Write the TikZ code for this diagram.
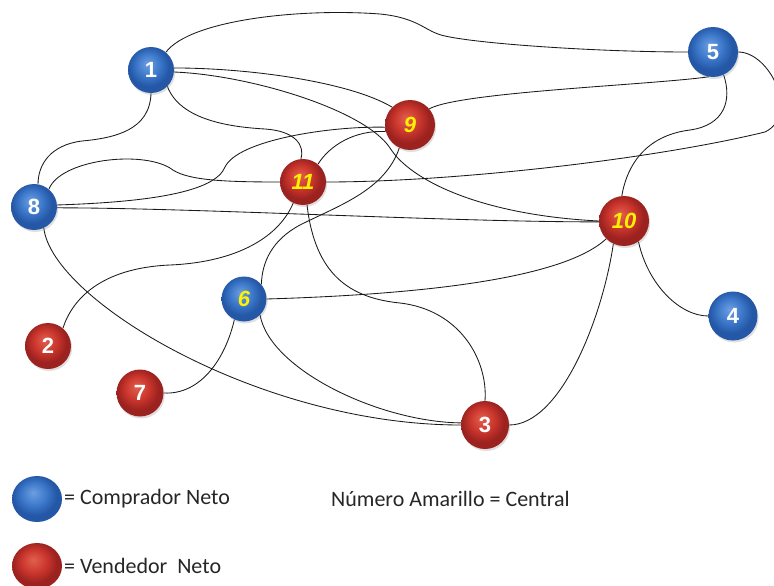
\documentclass[tikz,border=0pt]{standalone}
\usepackage{fontspec}
\setmainfont{Carlito}
\newfontfamily\numfont{Liberation Sans}
\usetikzlibrary{shadows,backgrounds,shapes.geometric}

\definecolor{bLight}{HTML}{6C9FE2}
\definecolor{bMid}{HTML}{3B76C8}
\definecolor{bEdge}{HTML}{2457A6}
\definecolor{rLight}{HTML}{E2604E}
\definecolor{rMid}{HTML}{C9352C}
\definecolor{rEdge}{HTML}{9C2220}
\definecolor{numyellow}{HTML}{FFF200}
\definecolor{edgecol}{HTML}{1A1A1A}

\pgfdeclareradialshading{blueball}{\pgfpoint{-4bp}{7bp}}{color(0bp)=(bLight); color(13bp)=(bMid); color(22bp)=(bEdge); color(25bp)=(bEdge); color(50bp)=(bEdge)}
\pgfdeclareradialshading{redball}{\pgfpoint{-4bp}{7bp}}{color(0bp)=(rLight); color(13bp)=(rMid); color(22bp)=(rEdge); color(25bp)=(rEdge); color(50bp)=(rEdge)}

\tikzset{
  ballnode/.style={circle, inner sep=0pt, shade,
    drop shadow={shadow xshift=1.2pt, shadow yshift=-2pt, opacity=0.25},
    font=\numfont\bfseries\fontsize{22}{22}\selectfont, text=white},
  buyer/.style={ballnode, shading=blueball},
  seller/.style={ballnode, shading=redball},
  central/.style={text=numyellow, font=\numfont\bfseries\itshape\fontsize{22}{22}\selectfont},
  link/.style={draw=edgecol, line width=0.85pt},
  legendball/.style={ellipse, inner sep=0pt, shade, minimum width=50pt, minimum height=46pt},
  legendtext/.style={anchor=west, inner sep=0pt, font=\fontsize{22}{24}\selectfont, text=black!85}
}

\begin{document}
\begin{tikzpicture}[x=1pt, y=-1pt]
\useasboundingbox (0,0) rectangle (774,586);

% nodes
\node[buyer, minimum size=46pt] (n1) at (151,70) {1};
\node[buyer, minimum size=50pt] (n5) at (713,52) {5};
\node[seller, central, minimum size=50pt] (n9) at (410,125) {9};
\node[seller, central, minimum size=46pt] (n11) at (303,182) {11};
\node[buyer, minimum size=46pt] (n8) at (34,207) {8};
\node[seller, central, minimum size=50pt] (n10) at (624,221) {10};
\node[buyer, central, minimum size=45pt] (n6) at (244,299) {6};
\node[buyer, minimum size=49pt] (n4) at (733,316) {4};
\node[seller, minimum size=46pt] (n2) at (48,346) {2};
\node[seller, minimum size=47pt] (n7) at (140,393) {7};
\node[seller, minimum size=48pt] (n3) at (485,425) {3};

% legend
\node[legendball, shading=blueball] (lb) at (37,499) {};
\node[legendball, shading=redball] (lr) at (37,566) {};
\node[legendtext] (tb) at (64,499) {= Comprador Neto};
\node[legendtext] (tr) at (64,566) {= Vendedor\ \ Neto};
\node[legendtext] (tc) at (331,499) {Número Amarillo = Central};

\begin{pgfonlayer}{background}
\draw[link] (n1.50) .. controls (190,20) and (300,8) .. (380,14) .. controls (420,18) and (425,32) .. (445,36) .. controls (480,44) and (600,52) .. (n5.180);
\draw[link] (n1.5) .. controls (250,68) and (350,82) .. (n9.135);
\draw[link] (n1.-5) .. controls (250,75) and (365,110) .. (390,148) .. controls (410,180) and (480,215) .. (n10.180);
\draw[link] (n1.-90) .. controls (150,130) and (115,138) .. (82,141) .. controls (50,145) and (38,165) .. (n8.80);
\draw[link] (n1.-45) .. controls (180,120) and (230,127) .. (265,129) .. controls (295,131) and (305,145) .. (n11.95);
\draw[link] (n8.50) .. controls (60,160) and (140,150) .. (170,168) .. controls (185,180) and (220,182) .. (n11.180);
\draw[link] (n8.5) .. controls (150,202) and (215,192) .. (225,167) .. controls (238,140) and (330,126) .. (n9.185);
\draw[link] (n8.-2) .. controls (200,208) and (450,222) .. (n10.182);
\draw[link] (n8.-65) .. controls (52,300) and (260,425) .. (n3.180);
\draw[link] (n11.50) .. controls (330,145) and (355,130) .. (n9.195);
\draw[link] (n5.0) .. controls (770,52) and (800,115) .. (765,132) .. controls (650,160) and (450,182) .. (n11.0);
\draw[link] (n11.-115) .. controls (280,235) and (240,262) .. (170,265) .. controls (100,268) and (72,300) .. (n2.50);
\draw[link] (n11.-80) .. controls (315,275) and (350,298) .. (400,303) .. controls (460,310) and (488,360) .. (n3.90);
\draw[link] (n9.-115) .. controls (385,190) and (340,205) .. (300,225) .. controls (272,240) and (262,262) .. (n6.40);
\draw[link] (n9.40) .. controls (460,92) and (650,85) .. (n5.-100);
\draw[link] (n10.95) .. controls (628,160) and (650,135) .. (690,130) .. controls (725,125) and (732,100) .. (n5.-65);
\draw[link] (n6.0) .. controls (400,295) and (560,282) .. (n10.-135);
\draw[link] (n6.-45) .. controls (270,370) and (380,422) .. (n3.175);
\draw[link] (n6.-115) .. controls (225,360) and (200,395) .. (n7.0);
\draw[link] (n10.-115) .. controls (602,320) and (560,425) .. (n3.0);
\draw[link] (n10.-55) .. controls (648,285) and (680,316) .. (n4.180);
\end{pgfonlayer}
\end{tikzpicture}
\end{document}
